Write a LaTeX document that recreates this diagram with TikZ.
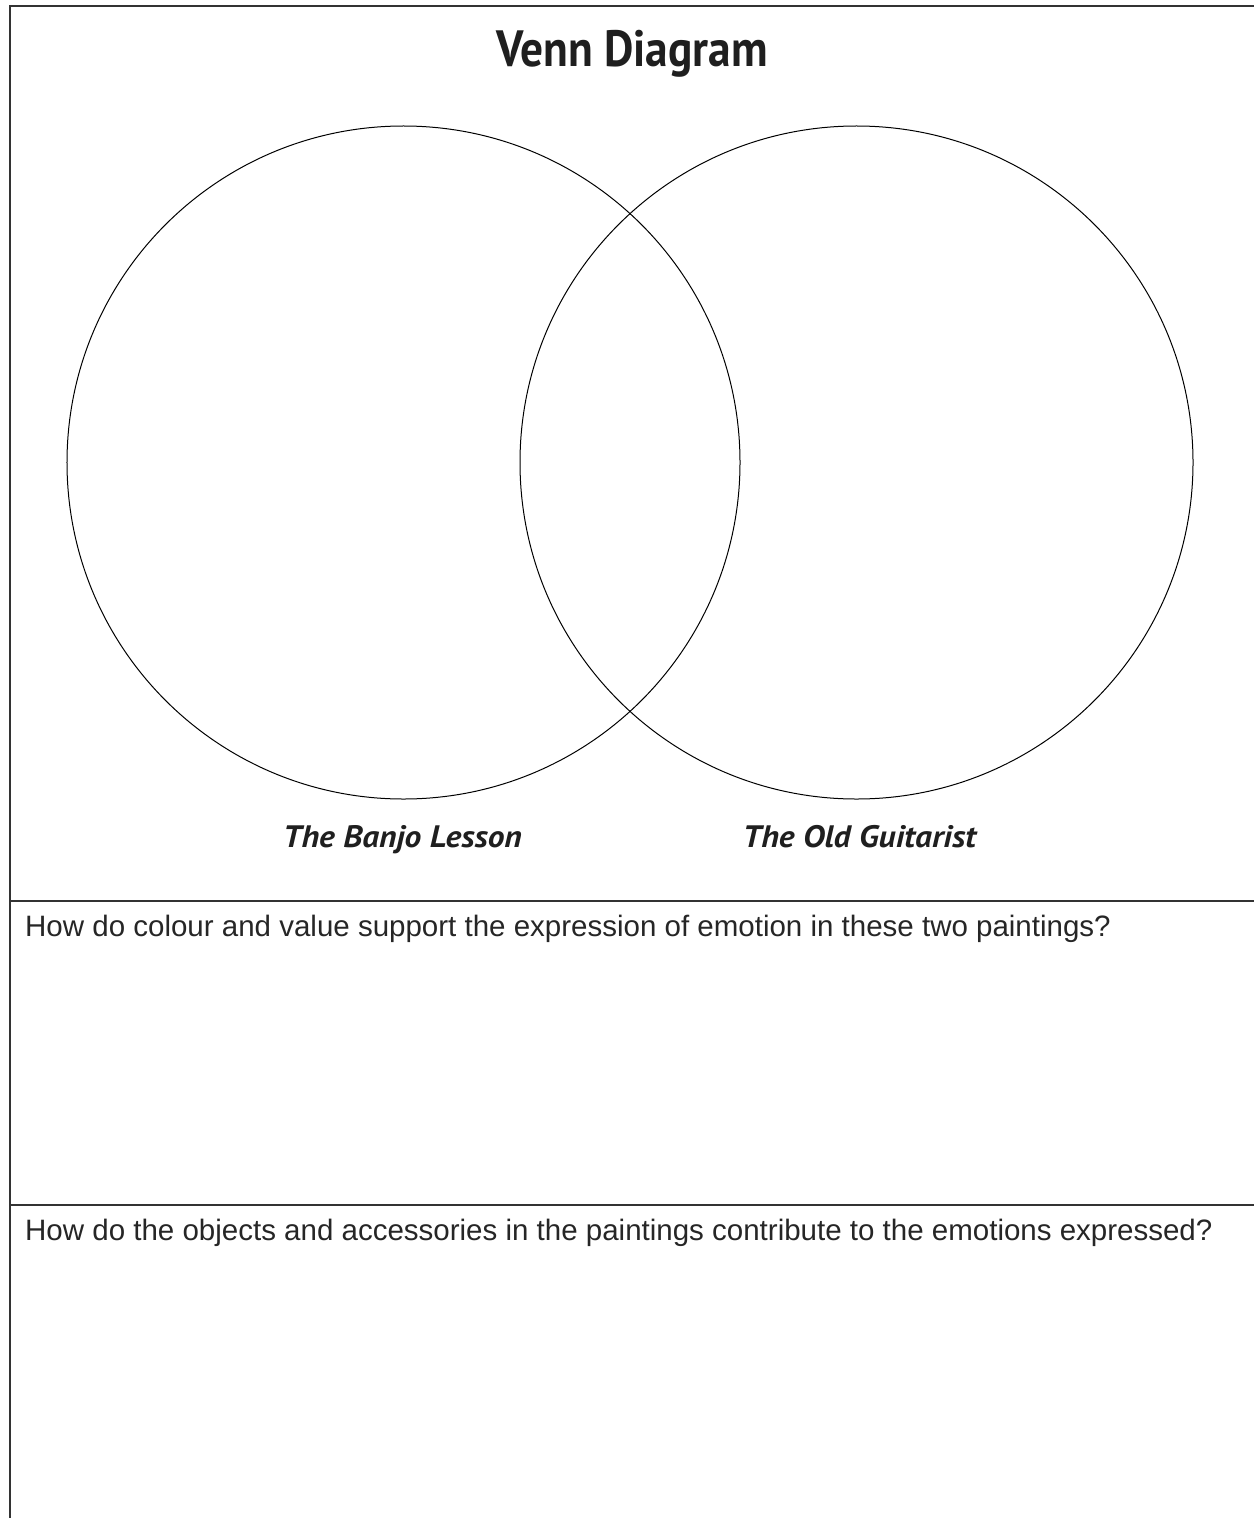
\documentclass[tikz,border=0pt]{standalone}
\usepackage{fontspec}
\setmainfont{Liberation Sans}
\newfontfamily\headfont{PT Sans}
\begin{document}
\begin{tikzpicture}[x=1bp,y=-1bp,
  rule/.style={draw=black!80, line width=2bp},
  ring/.style={draw=black, line width=1bp},
  heading/.style={inner sep=0pt, anchor=base, text=black!88,
    font=\headfont\bfseries\fontsize{51bp}{60bp}\selectfont},
  caption/.style={inner sep=0pt, anchor=base, text=black!88,
    font=\headfont\bfseries\itshape\fontsize{31bp}{36bp}\selectfont},
  question/.style={inner sep=0pt, anchor=base west, text=black!85,
    font=\fontsize{29.5bp}{34bp}\selectfont}]
  \useasboundingbox (0,0) rectangle (1254,1518);
  % frame and section rules
  \draw[rule] (10,1518) -- (10,6) -- (1254,6);
  \draw[rule] (10,901) -- (1254,901);
  \draw[rule] (10,1205) -- (1254,1205);
  % title
  \node[heading] (title) at (632,67) {\scalebox{0.89}[1]{Venn Diagram}};
  % the two sets
  \node[ring, circle, minimum size=673bp, inner sep=0pt] (left) at (403.5,462.5) {};
  \node[ring, circle, minimum size=673bp, inner sep=0pt] (right) at (856.5,462.5) {};
  % set names
  \node[caption] (banjo) at (402.5,847) {\scalebox{1.08}[1]{The Banjo Lesson}};
  \node[caption] (guitar) at (859.5,847) {\scalebox{1.08}[1]{The Old Guitarist}};
  % questions
  \node[question] (q1) at (25,936) {How do colour and value support the expression of emotion in these two paintings?};
  \node[question] (q2) at (25,1240) {How do the objects and accessories in the paintings contribute to the emotions expressed?};
\end{tikzpicture}
\end{document}
